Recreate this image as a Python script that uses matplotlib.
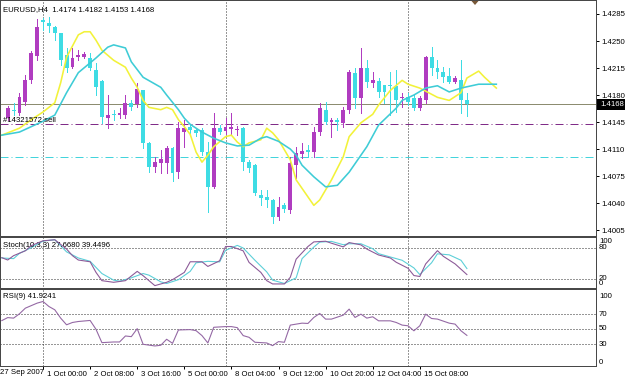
import matplotlib
matplotlib.use("Agg")
import matplotlib.pyplot as plt
from matplotlib.patches import Rectangle, Polygon
from matplotlib.transforms import ScaledTranslation, blended_transform_factory

W, H, DPI = 625, 380, 100

# ---------------- data ----------------
title_text = "EURUSD,H4  1.4174 1.4182 1.4153 1.4168"
stoch_text = "Stoch(10,3,3) 27.6680 39.4496"
rsi_text = "RSI(9) 41.9241"
order_text = "#14321572 sell"

opens = [1.4150, 1.4161, 1.4157, 1.4171, 1.4199, 1.4230, 1.4277, 1.4273, 1.4268, 1.4260,
         1.4232, 1.4216, 1.4229, 1.4229, 1.4228, 1.4212, 1.4198, 1.4150, 1.4155, 1.4154,
         1.4154, 1.4170, 1.4168, 1.4186, 1.4118, 1.4087, 1.4092, 1.4092, 1.4111, 1.4080,
         1.4132, 1.4139, 1.4135, 1.4135, 1.4106, 1.4061, 1.4137, 1.4133, 1.4136, 1.4135,
         1.4137, 1.4093, 1.4089, 1.4050, 1.4048, 1.4044, 1.4022, 1.4038, 1.4031, 1.4089,
         1.4104, 1.4109, 1.4106, 1.4132, 1.4161, 1.4145, 1.4147, 1.4144, 1.4161, 1.4209,
         1.4176, 1.4215, 1.4196, 1.4198, 1.4193, 1.4193, 1.4192, 1.4176, 1.4177, 1.4176,
         1.4163, 1.4173, 1.4229, 1.4215, 1.4210, 1.4205, 1.4197, 1.4200, 1.4174]
highs = [1.4166, 1.4170, 1.4183, 1.4206, 1.4237, 1.4278, 1.4280, 1.4281, 1.4269, 1.4261,
         1.4241, 1.4241, 1.4238, 1.4236, 1.4234, 1.4222, 1.4199, 1.4180, 1.4161, 1.4163,
         1.4180, 1.4173, 1.4196, 1.4187, 1.4119, 1.4100, 1.4109, 1.4114, 1.4112, 1.4145,
         1.4148, 1.4141, 1.4137, 1.4137, 1.4119, 1.4157, 1.4141, 1.4150, 1.4157, 1.4140,
         1.4138, 1.4096, 1.4090, 1.4057, 1.4057, 1.4045, 1.4048, 1.4040, 1.4100, 1.4113,
         1.4118, 1.4115, 1.4139, 1.4170, 1.4171, 1.4150, 1.4150, 1.4164, 1.4212, 1.4215,
         1.4241, 1.4225, 1.4210, 1.4202, 1.4193, 1.4210, 1.4212, 1.4183, 1.4183, 1.4180,
         1.4179, 1.4231, 1.4242, 1.4225, 1.4216, 1.4215, 1.4205, 1.4225, 1.4182]
lows = [1.4148, 1.4154, 1.4154, 1.4167, 1.4196, 1.4225, 1.4264, 1.4262, 1.4251, 1.4219,
        1.4210, 1.4215, 1.4225, 1.4228, 1.4212, 1.4180, 1.4144, 1.4137, 1.4148, 1.4150,
        1.4150, 1.4161, 1.4164, 1.4111, 1.4080, 1.4080, 1.4079, 1.4079, 1.4069, 1.4072,
        1.4113, 1.4131, 1.4127, 1.4102, 1.4028, 1.4059, 1.4129, 1.4129, 1.4128, 1.4128,
        1.4083, 1.4080, 1.4050, 1.4038, 1.4035, 1.4014, 1.4018, 1.4028, 1.4027, 1.4072,
        1.4098, 1.4100, 1.4100, 1.4128, 1.4142, 1.4126, 1.4135, 1.4139, 1.4157, 1.4163,
        1.4157, 1.4190, 1.4190, 1.4177, 1.4170, 1.4154, 1.4158, 1.4164, 1.4167, 1.4161,
        1.4161, 1.4170, 1.4206, 1.4202, 1.4197, 1.4196, 1.4196, 1.4157, 1.4153]
closes = [1.4163, 1.4159, 1.4177, 1.4200, 1.4234, 1.4268, 1.4275, 1.4269, 1.4260, 1.4225,
          1.4215, 1.4228, 1.4232, 1.4233, 1.4215, 1.4190, 1.4152, 1.4154, 1.4154, 1.4157,
          1.4170, 1.4164, 1.4188, 1.4118, 1.4087, 1.4093, 1.4097, 1.4111, 1.4079, 1.4137,
          1.4137, 1.4135, 1.4131, 1.4106, 1.4061, 1.4137, 1.4132, 1.4139, 1.4139, 1.4136,
          1.4093, 1.4085, 1.4053, 1.4046, 1.4044, 1.4022, 1.4035, 1.4032, 1.4092, 1.4105,
          1.4107, 1.4106, 1.4132, 1.4163, 1.4145, 1.4148, 1.4145, 1.4161, 1.4210, 1.4176,
          1.4215, 1.4197, 1.4200, 1.4184, 1.4184, 1.4192, 1.4173, 1.4177, 1.4171, 1.4163,
          1.4176, 1.4229, 1.4215, 1.4210, 1.4203, 1.4197, 1.4202, 1.4173, 1.4168]

yellow_ma_bar = [-1, 2, 4, 6, 8, 9, 10, 12, 13, 14, 15, 16, 18, 20, 21, 22, 23, 24, 26, 27,
                 28, 29, 30, 31, 32, 33, 34, 35, 37, 38, 39, 40, 41, 43, 44, 45, 46, 48, 49, 51,
                 52, 53, 55, 57, 58, 60, 62, 63, 65, 67, 68, 70, 73, 75, 77, 78, 80, 81, 83]
yellow_ma_val = [1.4128, 1.4137, 1.4148, 1.4158, 1.4170, 1.4196, 1.4229, 1.4258, 1.4262, 1.4262,
                 1.4251, 1.4238, 1.4225, 1.4216, 1.4202, 1.4190, 1.4173, 1.4164, 1.4161, 1.4164,
                 1.4161, 1.4148, 1.4139, 1.4129, 1.4106, 1.4093, 1.4102, 1.4113, 1.4126, 1.4128,
                 1.4119, 1.4113, 1.4118, 1.4122, 1.4137, 1.4131, 1.4122, 1.4096, 1.4070, 1.4048,
                 1.4037, 1.4044, 1.4070, 1.4100, 1.4126, 1.4144, 1.4155, 1.4167, 1.4186, 1.4199,
                 1.4194, 1.4189, 1.4177, 1.4173, 1.4183, 1.4202, 1.4211, 1.4203, 1.4189]
cyan_ma_bar = [-1, 2, 4, 6, 8, 10, 12, 15, 17, 18, 20, 21, 23, 26, 27, 29, 30, 31, 33, 35,
               37, 39, 41, 43, 44, 46, 48, 49, 50, 52, 54, 56, 58, 60, 61, 63, 66, 67, 69, 71,
               73, 75, 77, 80, 83]
cyan_ma_val = [1.4128, 1.4132, 1.4139, 1.4146, 1.4154, 1.4183, 1.4209, 1.4228, 1.4242, 1.4245,
               1.4241, 1.4223, 1.4203, 1.4190, 1.4180, 1.4161, 1.4150, 1.4142, 1.4132, 1.4124,
               1.4118, 1.4114, 1.4115, 1.4124, 1.4126, 1.4120, 1.4110, 1.4102, 1.4089, 1.4074,
               1.4061, 1.4063, 1.4080, 1.4102, 1.4113, 1.4141, 1.4163, 1.4173, 1.4180, 1.4189,
               1.4192, 1.4184, 1.4189, 1.4194, 1.4194]

stoch_main_bar = [-1, 0, 1, 3, 4, 6, 8, 10, 11, 12, 14, 15, 16, 18, 20, 22, 23, 25, 27, 28,
                  30, 31, 33, 34, 36, 37, 38, 40, 41, 43, 44, 45, 47, 48, 49, 51, 52, 54, 55, 57,
                  58, 60, 61, 63, 65, 66, 68, 69, 70, 71, 73, 74, 76, 78]
stoch_main_val = [60.6, 56, 64.5, 74, 83.9, 93.5, 95.5, 77.4, 64.5, 56, 52.6, 31.9, 15.8, 12.6,
                  15.8, 33.9, 25.5, 6.1, 12.6, 17.7, 31.9, 52.6, 52.6, 43.5, 54.5, 82.3, 82.3,
                  73.9, 51.3, 31.9, 15.8, 9.4, 9.4, 22.3, 57.7, 82.3, 91.3, 92.6, 88.7, 81.6,
                  90, 85.5, 77.4, 65.8, 60, 51.6, 40, 25.8, 23.9, 48.4, 74.2, 63.2, 48.4, 27.7]
stoch_sig_bar = [-1, 1, 2, 4, 6, 8, 10, 12, 14, 16, 18, 19, 21, 23, 24, 26, 27, 29, 31, 32,
                 34, 36, 37, 39, 40, 42, 44, 45, 47, 49, 50, 52, 53, 55, 57, 58, 60, 62, 63, 65,
                 67, 69, 70, 72, 73, 75, 77, 78]
stoch_sig_val = [60, 58.7, 69, 80, 92.9, 95.5, 71.9, 60, 53.5, 29.7, 16.8, 14.8, 21.3, 29.7,
                 26.5, 13.5, 10.3, 17.7, 33.9, 50.6, 53.5, 52.3, 74.8, 84.5, 79.4, 55.5, 32.9,
                 16.8, 10.3, 21.3, 58.7, 81.3, 90.9, 92.3, 85.8, 87.7, 87.7, 78, 68.4, 61.9,
                 55.5, 40.6, 27.7, 50.6, 68.1, 66.1, 55.5, 39.4]
rsi_bar = [-1, 0, 1, 2, 3, 5, 6, 7, 8, 9, 10, 11, 12, 14, 15, 16, 18, 19, 20, 21,
           22, 23, 25, 26, 27, 28, 29, 31, 32, 33, 34, 35, 37, 38, 39, 40, 41, 42, 44, 45,
           46, 47, 48, 50, 51, 52, 53, 54, 55, 57, 58, 59, 60, 61, 62, 63, 65, 66, 67, 68,
           69, 70, 71, 72, 73, 75, 76, 77, 78]
rsi_val = [61.6, 65.6, 64.9, 70.7, 78.2, 84.9, 87.1, 80.4, 76, 64.9, 56, 59.1, 60.4, 61.8,
           50, 32.2, 33.1, 33.1, 41.1, 40.2, 50.9, 30, 27.8, 28.7, 36.7, 31.3, 49.1, 49.6,
           48.2, 41.6, 31.8, 52.7, 53.6, 53.6, 52.2, 41.6, 39.3, 32.7, 31.8, 28.2, 33.6, 32.7,
           55.6, 58.2, 57.8, 65.8, 71.1, 63.6, 63.6, 68.9, 76.9, 65.8, 70.2, 64.9, 66.7, 61.3,
           61.3, 59.1, 55.6, 54.7, 48, 54.7, 70.2, 64.4, 63.6, 58.2, 56.9, 48, 41.9]

price_ticks = [1.4285, 1.4250, 1.4215, 1.4180, 1.4145, 1.4110, 1.4075, 1.4040, 1.4005]
stoch_levels = [20, 80]
stoch_labels = ["100", "80", "20", "0"]
rsi_levels = [30, 50, 70]
rsi_labels = ["100", "70", "50", "30", "0"]
time_label_bars = [6, 14, 22, 30, 38, 46, 54, 62, 70]
time_labels = ["1 Oct 00:00", "2 Oct 08:00", "3 Oct 16:00", "5 Oct 00:00", "8 Oct 04:00",
               "9 Oct 12:00", "10 Oct 20:00", "12 Oct 04:00", "15 Oct 08:00"]
first_time_label = "27 Sep 2007"
separator_bars = [6, 37, 68]
current_price = 1.4168
order_price = 1.4143
target_price = 1.4100

# ---------------- style ----------------
plt.rcParams['font.family'] = ['Liberation Sans Narrow', 'Liberation Sans', 'DejaVu Sans']
FS = 5.6
UP_C = '#B03CC0'
DN_C = '#3EDCE4'
YEL_C = '#F2F23A'
CYMA_C = '#3ECCD6'
ST_MAIN_C = '#8C5A98'
ST_SIG_C = '#5CCFD8'
RSI_C = '#9468A4'
GRID_C = '#303030'
FRAME_C = '#484848'
PX = 72.0 / DPI  # one pixel in points

fig = plt.figure(figsize=(W / DPI, H / DPI), dpi=DPI, facecolor='white')


def px_axes(x0, y0, x1, y1):
    return fig.add_axes([x0 / W, 1 - y1 / H, (x1 - x0) / W, (y1 - y0) / H])


def fx(x):
    return x / W


def fy(y):
    return 1 - y / H


BAR0_PX, BAR_PX = 7.7, 5.887
PLOT_RIGHT = 596
X_LEFT = (0 - BAR0_PX) / BAR_PX
X_RIGHT = (PLOT_RIGHT - BAR0_PX) / BAR_PX

# pixel <-> price mapping for the main window
def price_at(y):
    return 1.4285 - (y - 14) * 0.0001296

MAIN_TOP, MAIN_BOT = 0, 237
ST_TOP, ST_BOT = 237, 289
RSI_TOP, RSI_BOT = 289, 366

ax = px_axes(0, MAIN_TOP, PLOT_RIGHT, MAIN_BOT)
ax_st = px_axes(0, ST_TOP, PLOT_RIGHT, ST_BOT)
ax_rsi = px_axes(0, RSI_TOP, PLOT_RIGHT, RSI_BOT)

ax.set_ylim(price_at(MAIN_BOT), price_at(MAIN_TOP))
st_s = (278.5 - 247.7) / 60.0
ax_st.set_ylim(20 - (ST_BOT - 278.5) / st_s, 80 + (247.7 - ST_TOP) / st_s)
rsi_s = (344.3 - 314.3) / 40.0
ax_rsi.set_ylim(30 - (RSI_BOT - 344.3) / rsi_s, 70 + (314.3 - RSI_TOP) / rsi_s)

for a in (ax, ax_st, ax_rsi):
    a.set_xlim(X_LEFT, X_RIGHT)
    a.set_facecolor('white')
    for sp in a.spines.values():
        sp.set_color(FRAME_C)
        sp.set_linewidth(1.0 * PX)
    a.tick_params(axis='x', which='both', bottom=False, labelbottom=False)
    a.set_yticks([])
    for b in separator_bars:
        a.axvline(b, color=GRID_C, lw=PX, linestyle=(0, (1, 2)), zorder=1)

ax_st.spines['top'].set_linewidth(2 * PX)
ax_rsi.spines['top'].set_linewidth(2 * PX)

# ---------------- main window ----------------
ax.axhline(current_price, color='#8C8C70', lw=PX, zorder=1)
ax.axhline(order_price, color='#802C88', lw=PX, linestyle=(0, (8, 3, 1, 3)), zorder=1)
ax.axhline(target_price, color='#44D4DC', lw=PX, linestyle=(0, (8, 3, 1, 3)), zorder=1)

body_w = 0.66
min_body = 0.00013
for i, (o, h, l, c) in enumerate(zip(opens, highs, lows, closes)):
    col = UP_C if c >= o else DN_C
    ax.vlines(i, l, h, color=col, lw=PX, zorder=3, antialiased=False)
    bottom = min(o, c)
    height = max(abs(c - o), min_body)
    ax.add_patch(Rectangle((i - body_w / 2, bottom), body_w, height,
                           facecolor=col, edgecolor='none', zorder=4, antialiased=False))

ax.plot(yellow_ma_bar, yellow_ma_val, color=YEL_C, lw=1.6 * PX, zorder=5)
ax.plot(cyan_ma_bar, cyan_ma_val, color=CYMA_C, lw=1.6 * PX, zorder=5)

ax.yaxis.tick_right()
ax.set_yticks(price_ticks)
ax.set_yticklabels([f"{p:.4f}" for p in price_ticks])
ax.tick_params(axis='y', direction='out', length=3 * PX, width=PX, pad=2,
               labelsize=FS, colors='black')

ax.text(3 / PLOT_RIGHT, 1 - 10 / (MAIN_BOT - MAIN_TOP), title_text, transform=ax.transAxes,
        fontsize=FS, va='center', ha='left', color='black')
ax.text(X_LEFT + 0.5, order_price, order_text, fontsize=FS, va='bottom', ha='left',
        color='black', zorder=6)

# price tag box
fig.patches.append(Rectangle((fx(597), fy(109.5)), (W - 597) / W, 10.5 / H,
                             transform=fig.transFigure, facecolor='black', edgecolor='none'))
fig.text(fx(600), fy(104.2), f"{current_price:.4f}", color='white', fontsize=FS,
         va='center', ha='left')
# chart shift marker
fig.patches.append(Polygon([(fx(471.5), fy(1)), (fx(478.5), fy(1)), (fx(475), fy(5))],
                           closed=True, transform=fig.transFigure,
                           facecolor='#7A5A3A', edgecolor='none'))

# ---------------- stochastic ----------------
for lv in stoch_levels:
    ax_st.axhline(lv, color=GRID_C, lw=PX, linestyle=(0, (1, 2)), zorder=1)
ax_st.plot(stoch_sig_bar, stoch_sig_val, color=ST_SIG_C, lw=1.1 * PX, zorder=3)
ax_st.plot(stoch_main_bar, stoch_main_val, color=ST_MAIN_C, lw=1.1 * PX, zorder=4)
ax_st.text(3 / PLOT_RIGHT, 1 - 8 / (ST_BOT - ST_TOP), stoch_text, transform=ax_st.transAxes,
           fontsize=FS, va='center', ha='left', color='black')
for lab, yp in zip(stoch_labels, [241.5, 247.5, 278.0, 283.5]):
    fig.text(fx(599), fy(yp), lab, fontsize=FS, va='center', ha='left', color='black')

# ---------------- RSI ----------------
for lv in rsi_levels:
    ax_rsi.axhline(lv, color=GRID_C, lw=PX, linestyle=(0, (1, 2)), zorder=1)
ax_rsi.plot(rsi_bar, rsi_val, color=RSI_C, lw=1.1 * PX, zorder=3)
ax_rsi.text(3 / PLOT_RIGHT, 1 - 8 / (RSI_BOT - RSI_TOP), rsi_text, transform=ax_rsi.transAxes,
            fontsize=FS, va='center', ha='left', color='black')
for lab, yp in zip(rsi_labels, [296, 314, 329, 344, 362]):
    fig.text(fx(599), fy(yp), lab, fontsize=FS, va='center', ha='left', color='black')

# time axis
ax_rsi.set_xticks(time_label_bars)
ax_rsi.set_xticklabels(time_labels)
ax_rsi.tick_params(axis='x', bottom=True, labelbottom=True, direction='out',
                   length=3 * PX, width=PX, pad=1.5, labelsize=FS, colors='black')
offset = ScaledTranslation(4 / DPI, 0, fig.dpi_scale_trans)
for lab in ax_rsi.get_xticklabels():
    lab.set_horizontalalignment('left')
    lab.set_transform(lab.get_transform() + offset)
fig.text(fx(0.5), fy(372), first_time_label, fontsize=FS, va='center', ha='left', color='black')

fig.savefig("out.png", dpi=DPI, facecolor='white')
